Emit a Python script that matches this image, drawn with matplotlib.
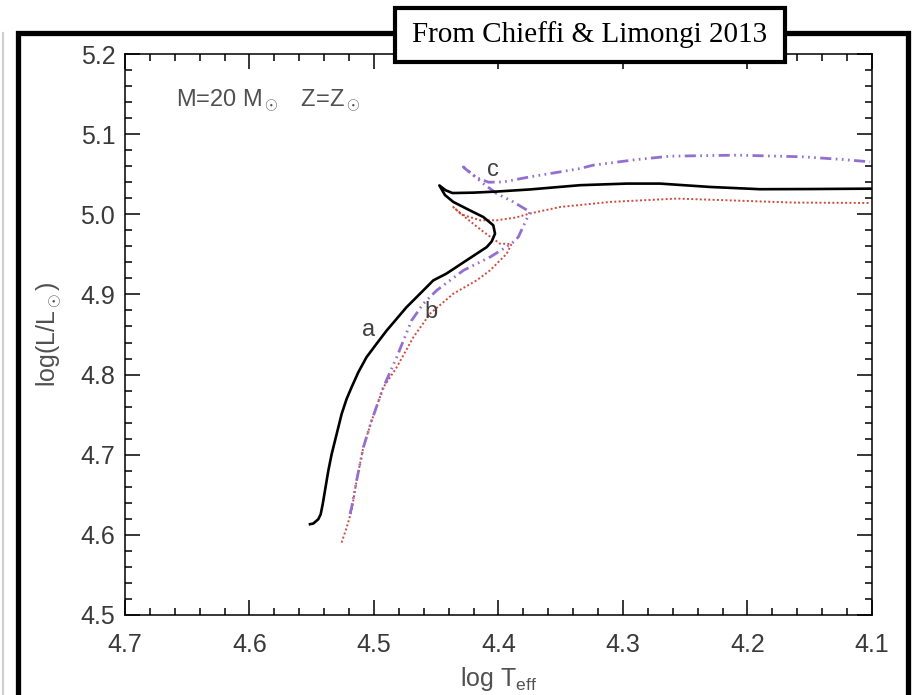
import numpy as np
import matplotlib
matplotlib.use("Agg")
import matplotlib.pyplot as plt
from matplotlib.patches import Rectangle
from matplotlib.lines import Line2D
from matplotlib.ticker import MultipleLocator, FormatStrFormatter

plt.rcParams['font.family'] = ['Liberation Sans', 'DejaVu Sans']
plt.rcParams['mathtext.fontset'] = 'custom'
plt.rcParams['mathtext.rm'] = 'Liberation Sans'
plt.rcParams['mathtext.it'] = 'Liberation Sans'

# track a (black, solid)
a_logT = [4.5514, 4.5487, 4.5447, 4.5428, 4.5412, 4.5394, 4.5367, 4.534, 4.530, 4.526,
          4.522, 4.518, 4.5126, 4.506, 4.498, 4.4898, 4.4818, 4.4738, 4.4631, 4.4524,
          4.4418, 4.4257, 4.4095, 4.4055, 4.4028, 4.4042, 4.4122, 4.4257, 4.4363, 4.443,
          4.4475, 4.4425, 4.437, 4.42, 4.40, 4.3747, 4.3345, 4.297, 4.2703, 4.2301,
          4.19, 4.15, 4.10]
a_logL = [4.6133, 4.6142, 4.6196, 4.6258, 4.6383, 4.655, 4.680, 4.7008, 4.7258, 4.7508,
          4.7696, 4.7842, 4.8029, 4.8217, 4.8383, 4.855, 4.8696, 4.8842, 4.9008, 4.9175,
          4.926, 4.9425, 4.959, 4.966, 4.9758, 4.9863, 4.9966, 5.007, 5.0154, 5.024,
          5.036, 5.030, 5.0265, 5.027, 5.0285, 5.031, 5.0363, 5.0383, 5.0383, 5.0341,
          5.0313, 5.0315, 5.032]

# track c (purple, dash-dot-dot)
c_logT = [4.5193, 4.518, 4.514, 4.5086, 4.5019, 4.4925, 4.4818, 4.4698, 4.4604, 4.4497,
          4.4282, 4.4068, 4.3895, 4.3841, 4.3747, 4.3881, 4.4014, 4.4122, 4.4202, 4.4269,
          4.4282, 4.418, 4.408, 4.396, 4.3747, 4.3506, 4.3345, 4.3239, 4.289, 4.2622,
          4.2087, 4.1552, 4.123, 4.1016]
c_logL = [4.626, 4.634, 4.6675, 4.709, 4.7425, 4.784, 4.8216, 4.8675, 4.8884, 4.905,
          4.93, 4.9466, 4.9633, 4.9716, 5.003, 5.0154, 5.0258, 5.0383, 5.0488, 5.0571,
          5.0591, 5.046, 5.040, 5.0404, 5.0467, 5.0529, 5.0571, 5.0613, 5.0683, 5.0725,
          5.0738, 5.0717, 5.0683, 5.0654]

# track b (red, dotted)
b_logT = [4.526, 4.522, 4.518, 4.514, 4.5086, 4.5019, 4.4925, 4.4818, 4.4684, 4.455,
          4.4363, 4.4176, 4.4068, 4.3934, 4.3895, 4.3988, 4.4120, 4.4250, 4.4363, 4.4300,
          4.4148, 4.4014, 4.3860, 4.3747, 4.3506, 4.3104, 4.257, 4.2167, 4.1631, 4.1016]
b_logL = [4.5904, 4.609, 4.63, 4.6675, 4.709, 4.7425, 4.784, 4.809, 4.8466, 4.876,
          4.9009, 4.9175, 4.93, 4.9508, 4.963, 4.9633, 4.978, 4.994, 5.009, 5.000,
          4.9925, 4.9925, 4.996, 5.001, 5.0091, 5.0154, 5.0196, 5.0175, 5.0146, 5.0141]

track_labels = ['a', 'b', 'c']
label_pos = [(4.5046, 4.856), (4.4545, 4.878), (4.4047, 5.0558)]

W, H = 917, 695
fig = plt.figure(figsize=(W / 100, H / 100), dpi=100)
ax = fig.add_axes([125 / W, 80 / H, 747 / W, 561 / H])

ax.plot(b_logT, b_logL, color='#d04a3c', lw=1.4, ls=(0, (1, 1.2)), zorder=2)
ax.plot(c_logT, c_logL, color='#9370cf', lw=2.0,
        ls=(0, (4, 1.6, 0.6, 1.6, 0.6, 1.6, 0.6, 1.6)), zorder=3)
ax.plot(a_logT, a_logL, color='black', lw=1.9, zorder=4)

for lab, (lx, ly) in zip(track_labels, label_pos):
    ax.text(lx, ly, lab, fontsize=17, color='#404040', ha='center', va='center')

ax.text(4.659, 5.1425, r'M=20 M$_\odot$   Z=Z$_\odot$', fontsize=17, color='#505050',
        ha='left', va='center')

ax.set_xlim(4.7, 4.1)
ax.set_ylim(4.5, 5.2)
ax.xaxis.set_major_locator(MultipleLocator(0.1))
ax.xaxis.set_minor_locator(MultipleLocator(0.02))
ax.yaxis.set_major_locator(MultipleLocator(0.1))
ax.yaxis.set_minor_locator(MultipleLocator(0.02))
ax.xaxis.set_major_formatter(FormatStrFormatter('%.1f'))
ax.yaxis.set_major_formatter(FormatStrFormatter('%.1f'))

ax.tick_params(which='both', direction='in', top=True, right=True, width=1.1,
               colors='black', labelcolor='#3a3a3a', labelsize=18)
ax.tick_params(which='major', length=10.5)
ax.tick_params(which='minor', length=5)
ax.tick_params(axis='x', pad=13)
ax.tick_params(axis='y', pad=7)
for s in ax.spines.values():
    s.set_linewidth(1.1)

ax.set_xlabel(r'log T$_{\rm eff}$', fontsize=18, color='#505050', labelpad=6)
ax.set_ylabel(r'log(L/L$_\odot$)', fontsize=18, color='#505050', labelpad=12)

# outer frame and faint left rule
fig.add_artist(Rectangle((17.5 / W, -0.05), 890 / W, (H - 33) / H + 0.05,
                         transform=fig.transFigure, fill=False, lw=3.8,
                         edgecolor='black', zorder=5))
fig.add_artist(Line2D([3 / W, 3 / W], [0, (H - 33) / H], transform=fig.transFigure,
                      color='#cfcfcf', lw=1.6))

# source note box
fig.add_artist(Rectangle((395 / W, (H - 62) / H), 390 / W, 54 / H,
                         transform=fig.transFigure, facecolor='white',
                         edgecolor='black', lw=3.0, zorder=6))
fig.text(590 / W, (H - 35) / H, 'From Chieffi & Limongi 2013', family='Liberation Serif',
         fontsize=21, ha='center', va='center', zorder=7)

fig.savefig('out.png', dpi=100)
